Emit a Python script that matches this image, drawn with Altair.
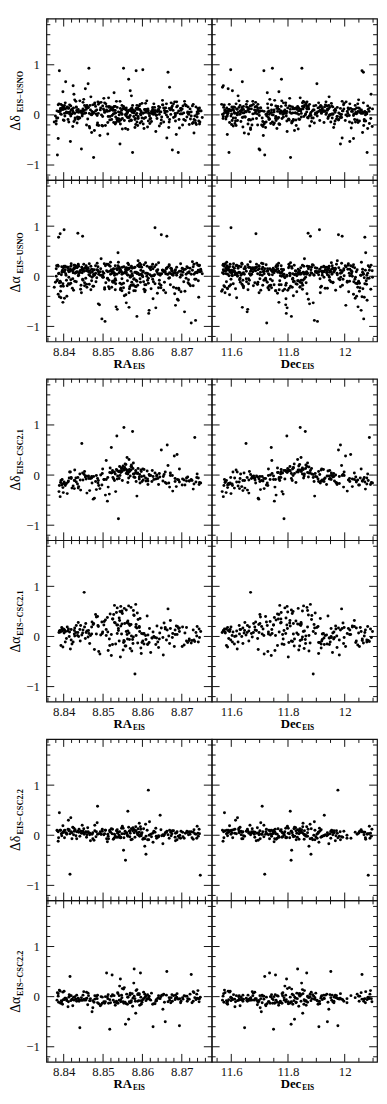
import altair as alt
import pandas as pd

# ---------------- EIS - USNO ----------------
usno_ra = [
    8.8412, 8.8567, 8.8703, 8.8389, 8.8631, 8.8478, 8.8525, 8.8745, 8.8436, 8.8594,
    8.8381, 8.8659, 8.8502, 8.8724, 8.8457, 8.8613, 8.8546, 8.8398, 8.8687, 8.8429,
    8.8571, 8.8492, 8.8738, 8.8615, 8.8404, 8.8533, 8.8669, 8.8446, 8.8582, 8.8711,
    8.8387, 8.8521, 8.8643, 8.8469, 8.8752, 8.8558, 8.8417, 8.8696, 8.8509, 8.8627,
    8.8441, 8.8589, 8.8376, 8.8678, 8.8536, 8.8462, 8.8719, 8.8603, 8.8395, 8.8549,
    8.8654, 8.8485, 8.8426, 8.8731, 8.8562, 8.8608, 8.8393, 8.8517, 8.8684, 8.8451,
    8.8575, 8.8409, 8.8638, 8.8497, 8.8742, 8.8529, 8.8453, 8.8662, 8.8384, 8.8596,
    8.8473, 8.8707, 8.8541, 8.8422, 8.8619, 8.8565, 8.8691, 8.8438, 8.8507, 8.8649,
    8.8401, 8.8578, 8.8466, 8.8727, 8.8554, 8.8433, 8.8672, 8.8514, 8.8599, 8.8392,
    8.8623, 8.8488, 8.8715, 8.8543, 8.8419, 8.8586, 8.8665, 8.8458, 8.8749, 8.8531,
    8.8379, 8.8611, 8.8495, 8.8693, 8.8447, 8.8569, 8.8634, 8.8411, 8.8526, 8.8735,
    8.8464, 8.8589, 8.8402, 8.8657, 8.8512, 8.8721, 8.8443, 8.8601, 8.8538, 8.8682,
    8.8391, 8.8557, 8.8476, 8.8644, 8.8428, 8.8713, 8.8593, 8.8505, 8.8667, 8.8415,
    8.8552, 8.8734, 8.8481, 8.8617, 8.8399, 8.8563, 8.8698, 8.8455, 8.8523, 8.8641,
    8.8437, 8.8584, 8.8705, 8.8519, 8.8386, 8.8627, 8.8491, 8.8746, 8.8572, 8.8448,
    8.8606, 8.8423, 8.8676, 8.8539, 8.8459, 8.8718, 8.8581, 8.8408, 8.8651, 8.8499,
    8.8561, 8.8689, 8.8434, 8.8528, 8.8632, 8.8382, 8.8574, 8.8729, 8.8471, 8.8616,
    8.8396, 8.8544, 8.8663, 8.8487, 8.8739, 8.8559, 8.8424, 8.8604, 8.8515, 8.8701,
    8.8445, 8.8579, 8.8388, 8.8648, 8.8532, 8.8461, 8.8686, 8.8597, 8.8418, 8.8566,
    8.8474, 8.8625, 8.8743, 8.8503, 8.8431, 8.8588, 8.8674, 8.8405, 8.8548, 8.8658,
]
usno_dec = [
    11.742, 11.615, 11.938, 12.061, 11.587, 11.823, 11.694, 12.012, 11.871, 11.653,
    11.964, 11.578, 11.806, 11.725, 12.083, 11.641, 11.897, 11.768, 11.602, 12.035,
    11.852, 11.713, 11.989, 11.631, 11.784, 12.047, 11.569, 11.918, 11.756, 11.672,
    12.071, 11.839, 11.607, 11.945, 11.731, 11.594, 12.018, 11.862, 11.689, 11.793,
    11.627, 11.974, 11.815, 12.056, 11.658, 11.902, 11.749, 11.583, 12.028, 11.836,
    11.704, 11.881, 12.093, 11.646, 11.771, 11.953, 11.619, 11.828, 12.004, 11.736,
    11.592, 11.929, 11.763, 12.067, 11.682, 11.847, 11.574, 11.991, 11.718, 11.886,
    12.041, 11.656, 11.802, 11.939, 11.613, 11.777, 12.079, 11.698, 11.864, 11.582,
    11.911, 11.738, 12.023, 11.667, 11.819, 11.596, 11.958, 11.843, 11.709, 12.052,
    11.634, 11.876, 11.751, 11.985, 11.579, 11.812, 12.066, 11.693, 11.927, 11.764,
    12.009, 11.621, 11.858, 11.733, 11.966, 11.604, 11.797, 12.088, 11.676, 11.893,
    11.745, 11.571, 12.037, 11.826, 11.661, 11.943, 11.788, 11.598, 12.074, 11.867,
    11.687, 11.934, 11.809, 11.573, 12.049, 11.758, 11.637, 11.904, 11.721, 11.996,
    11.849, 11.603, 11.776, 12.058, 11.918, 11.668, 11.831, 11.589, 12.016, 11.742,
    11.971, 11.715, 11.588, 11.857, 12.031, 11.649, 11.792, 11.951, 11.624, 11.879,
    11.769, 12.097, 11.701, 11.584, 11.915, 11.838, 11.663, 12.042, 11.753, 11.986,
    11.611, 11.872, 12.026, 11.727, 11.599, 11.956, 11.817, 11.678, 12.063, 11.794,
    11.921, 11.659, 11.786, 12.005, 11.643, 11.889, 11.572, 11.761, 11.947, 12.078,
    11.698, 11.845, 11.617, 11.978, 12.044, 11.729, 11.586, 11.866, 11.805, 11.639,
    11.932, 11.773, 12.069, 11.608, 11.854, 11.711, 11.997, 11.639, 11.782, 11.909,
]
usno_ddec = [
    0.05, -0.12, 0.18, 0.88, 0.02, -0.31, 0.09, 0.14, -0.06, 0.21,
    -0.18, 0.07, 0.33, -0.02, 0.11, -0.24, 0.04, 0.46, 0.16, -0.09,
    0.12, -0.41, 0.01, 0.08, 0.24, -0.15, 0.55, 0.03, -0.07, 0.19,
    0.07, 0.13, -0.22, 0.36, -0.05, 0.10, -0.53, 0.02, 0.17, 0.06,
    0.28, -0.03, -0.14, 0.09, 0.15, 0.62, -0.19, 0.04, 0.11, -0.28,
    0.14, -0.01, 0.41, -0.36, 0.06, 0.23, 0.12, -0.10, 0.00, 0.31,
    -0.75, 0.16, 0.07, -0.21, 0.10, 0.03, 0.19, -0.46, -0.80, 0.08,
    0.02, 0.27, -0.08, 0.12, -0.17, 0.71, -0.75, 0.05, 0.22, -0.04,
    0.15, 0.04, -0.26, 0.18, -0.11, 0.09, 0.01, 0.34, -0.06, 0.13,
    -0.13, 0.21, 0.06, -0.58, 0.10, 0.03, 0.85, -0.20, 0.08, 0.17,
    -0.02, 0.11, 0.25, -0.09, 0.05, 0.48, -0.33, 0.14, 0.02, -0.16,
    0.93, -0.07, 0.19, 0.04, -0.38, 0.12, 0.07, 0.90, -0.12, 0.26,
    0.09, 0.01, -0.85, 0.15, 0.30, -0.04, 0.11, 0.06, -0.25, 0.20,
    0.93, -0.11, 0.08, 0.03, 0.17, -0.29, 0.13, 0.52, -0.01, 0.10,
    -0.08, 0.88, 0.04, 0.16, -0.47, 0.07, 0.24, -0.14, 0.38, 0.02,
    0.11, -0.23, -0.70, 0.06, 0.19, 0.01, -0.09, 0.14, 0.29, -0.03,
    0.05, 0.18, -0.16, 0.44, 0.09, -0.06, 0.12, 0.21, -0.35, 0.03,
    0.13, -0.18, 0.07, 0.26, -0.04, 0.10, 0.58, -0.27, 0.15, 0.02,
    -0.68, 0.08, 0.22, -0.10, 0.04, 0.14, -0.39, 0.06, 0.18, -0.05,
    0.20, 0.03, -0.12, 0.09, 0.27, -0.21, 0.12, 0.66, 0.01, 0.07,
]
usno_dra = [
    0.12, -0.25, 0.08, -0.41, 0.19, 0.03, -0.12, 0.22, 0.86, -0.05,
    0.15, -0.33, 0.06, -0.93, 0.21, -0.08, 0.10, -0.52, 0.02, 0.17,
    -0.18, 0.09, 0.26, -0.04, 0.13, -0.61, 0.07, 0.18, -0.29, 0.04,
    0.78, 0.11, -0.15, 0.20, 0.05, -0.37, 0.14, -0.02, 0.24, -0.45,
    0.08, 0.31, -0.22, 0.02, -0.66, 0.16, 0.09, -0.11, 0.19, 0.07,
    -0.28, 0.13, 0.22, 0.04, -0.09, 0.27, -0.43, 0.10, -0.58, 0.15,
    0.01, 0.18, -0.34, -0.85, 0.12, 0.06, -0.19, 0.80, -0.07, 0.23,
    0.09, -0.71, 0.17, -0.24, 0.03, 0.14, -0.48, 0.20, -0.13, 0.05,
    0.93, -0.06, 0.11, 0.29, -0.39, 0.08, 0.16, -0.21, 0.02, -0.30,
    0.19, -0.55, 0.07, 0.12, 0.25, -0.80, 0.04, -0.16, 0.10, 0.21,
    -0.12, 0.06, 0.35, -0.27, 0.14, 0.01, -0.63, 0.18, 0.09, -0.88,
    0.03, 0.22, -0.44, 0.11, -0.05, 0.16, -0.26, 0.08, 0.47, -0.35,
    0.85, 0.13, -0.20, 0.05, -0.10, 0.19, 0.26, -0.90, -0.04, 0.12,
    -0.14, 0.07, 0.21, -0.68, 0.10, 0.02, -0.31, 0.17, 0.06, -0.23,
    0.24, -0.08, 0.13, 0.04, -0.36, 0.15, -0.57, 0.09, 0.20, 0.80,
    -0.17, 0.11, 0.03, 0.28, -0.22, 0.07, 0.18, -0.40, 0.12, -0.02,
    0.16, -0.46, 0.09, -0.12, 0.97, 0.21, 0.05, -0.19, 0.14, -0.74,
    0.10, -0.27, 0.04, 0.19, 0.07, -0.53, 0.13, 0.23, -0.08, 0.02,
    -0.33, 0.17, 0.06, 0.83, -0.15, 0.11, -0.24, 0.04, 0.20, -0.62,
    0.13, 0.01, -0.42, 0.25, 0.08, -0.18, 0.15, 0.05, -0.29, 0.09,
]
# USNO, stars of the dense central band
usno_ra_core = [
    8.8416, 8.8532, 8.8668, 8.8394, 8.8577, 8.8709, 8.8481, 8.8622, 8.8549, 8.8437,
    8.8595, 8.8463, 8.8731, 8.8511, 8.8652, 8.8403, 8.8568, 8.8689, 8.8527, 8.8448,
    8.8614, 8.8385, 8.8543, 8.8676, 8.8496, 8.8607, 8.8426, 8.8559, 8.8742, 8.8518,
    8.8639, 8.8472, 8.8583, 8.8409, 8.8697, 8.8535, 8.8456, 8.8628, 8.8571, 8.8381,
    8.8504, 8.8661, 8.8439, 8.8592, 8.8717, 8.8486, 8.8547, 8.8413, 8.8635, 8.8562,
    8.8399, 8.8524, 8.8683, 8.8467, 8.8604, 8.8748, 8.8541, 8.8432, 8.8579, 8.8654,
    8.8493, 8.8618, 8.8389, 8.8556, 8.8702, 8.8474, 8.8587, 8.8421, 8.8669, 8.8515,
    8.8643, 8.8452, 8.8566, 8.8398, 8.8724, 8.8538, 8.8601, 8.8478, 8.8692, 8.8429,
    8.8553, 8.8406, 8.8647, 8.8509, 8.8584, 8.8736, 8.8461, 8.8623, 8.8544, 8.8392,
    8.8679, 8.8522, 8.8443, 8.8598, 8.8711, 8.8488, 8.8565, 8.8418, 8.8631, 8.8574,
    8.8383, 8.8536, 8.8659, 8.8469, 8.8612, 8.8745, 8.8501, 8.8427, 8.8589, 8.8671,
    8.8458, 8.8548, 8.8705, 8.8434, 8.8626, 8.8513, 8.8396, 8.8581, 8.8684, 8.8476,
    8.8561, 8.8412, 8.8637, 8.8529, 8.8729, 8.8449, 8.8596, 8.8387, 8.8552, 8.8664,
    8.8484, 8.8619, 8.8424, 8.8573, 8.8698, 8.8506, 8.8444, 8.8641, 8.8558, 8.8739,
    8.8401, 8.8531, 8.8674, 8.8465, 8.8608, 8.8521, 8.8438, 8.8586, 8.8715, 8.8499,
    8.8423, 8.8541, 8.8679, 8.8402, 8.8563, 8.8716, 8.8489, 8.8606, 8.8534, 8.8447,
    8.8588, 8.8471, 8.8727, 8.8504, 8.8645, 8.8411, 8.8575, 8.8694, 8.8519, 8.8456,
    8.8621, 8.8393, 8.8551, 8.8668, 8.8482, 8.8611, 8.8435, 8.8566, 8.8737, 8.8526,
    8.8632, 8.8465, 8.8592, 8.8418, 8.8701, 8.8545, 8.8449, 8.8639, 8.8578, 8.8386,
    8.8512, 8.8656, 8.8428, 8.8599, 8.8722, 8.8494, 8.8557, 8.8407, 8.8641, 8.8569,
    8.8397, 8.8531, 8.8687, 8.8476, 8.8615, 8.8744, 8.8548, 8.8441, 8.8584, 8.8661,
    8.8499, 8.8626, 8.8391, 8.8561, 8.8708, 8.8468, 8.8594, 8.8415, 8.8673, 8.8522,
    8.8647, 8.8459, 8.8572, 8.8404, 8.8733, 8.8543, 8.8609, 8.8485, 8.8698, 8.8432,
    8.8559, 8.8413, 8.8651, 8.8516, 8.8581, 8.8741, 8.8453, 8.8629, 8.8537, 8.8399,
    8.8683, 8.8528, 8.8451, 8.8602, 8.8719, 8.8479, 8.8571, 8.8425, 8.8636, 8.8586,
]
usno_dec_core = [
    11.653, 11.847, 12.021, 11.734, 11.598, 11.912, 11.776, 12.064, 11.689, 11.831,
    11.959, 11.612, 11.803, 12.086, 11.742, 11.875, 11.577, 11.936, 11.718, 11.994,
    11.664, 11.889, 12.039, 11.757, 11.621, 11.968, 11.814, 11.703, 12.076, 11.856,
    11.592, 11.927, 11.771, 11.641, 12.013, 11.838, 11.684, 11.951, 11.579, 11.796,
    12.054, 11.728, 11.869, 11.606, 11.983, 11.752, 11.638, 11.906, 12.031, 11.783,
    11.668, 11.822, 11.574, 11.944, 12.092, 11.709, 11.861, 11.627, 11.979, 11.745,
    11.892, 11.586, 12.047, 11.764, 11.673, 11.918, 11.808, 11.601, 12.069, 11.851,
    11.722, 11.963, 11.649, 11.828, 11.587, 12.002, 11.787, 11.694, 11.931, 11.615,
    11.873, 12.058, 11.739, 11.596, 11.947, 11.816, 11.676, 12.027, 11.761, 11.632,
    11.989, 11.842, 11.583, 11.711, 12.081, 11.901, 11.658, 11.794, 11.974, 11.624,
    11.837, 12.044, 11.693, 11.569, 11.926, 11.768, 12.098, 11.645, 11.884, 11.751,
    11.609, 11.955, 11.819, 11.686, 12.036, 11.572, 11.898, 11.733, 11.966, 11.807,
    12.011, 11.661, 11.779, 11.921, 11.594, 11.853, 12.073, 11.716, 11.643, 11.942,
    11.789, 11.581, 11.881, 12.049, 11.726, 11.617, 11.992, 11.845, 11.699, 12.063,
    11.758, 11.913, 11.604, 11.832, 11.985, 11.671, 11.796, 12.017, 11.589, 11.866,
    11.701, 11.883, 12.046, 11.612, 11.767, 11.958, 11.829, 12.014, 11.676, 11.903,
    11.584, 11.745, 12.087, 11.851, 11.634, 11.979, 11.792, 11.668, 12.059, 11.817,
    11.941, 11.593, 11.866, 11.723, 12.032, 11.778, 11.649, 11.914, 11.601, 11.836,
    12.071, 11.712, 11.891, 11.629, 11.967, 11.804, 11.686, 12.024, 11.757, 11.575,
    11.927, 11.843, 11.619, 11.998, 11.735, 11.872, 12.081, 11.664, 11.809, 11.946,
    11.591, 11.769, 11.934, 11.826, 12.052, 11.697, 11.858, 11.607, 11.985, 11.748,
    11.877, 11.638, 12.009, 11.784, 11.566, 11.921, 11.813, 11.692, 12.066, 11.841,
    11.729, 11.954, 11.622, 11.868, 11.599, 11.991, 11.776, 11.707, 11.939, 11.654,
    11.896, 12.038, 11.741, 11.587, 11.961, 11.822, 11.683, 12.018, 11.764, 11.643,
    11.973, 11.834, 11.596, 11.716, 12.077, 11.908, 11.661, 11.799, 11.948, 11.631,
]
usno_ddec_core = [
    0.06, -0.04, 0.13, 0.01, 0.09, -0.11, 0.17, 0.03, -0.07, 0.11,
    0.02, 0.15, -0.09, 0.07, 0.20, -0.02, 0.10, 0.04, -0.15, 0.08,
    0.12, -0.06, 0.05, 0.18, 0.00, 0.09, -0.13, 0.14, 0.03, -0.03,
    0.10, 0.07, -0.19, 0.04, 0.13, -0.08, 0.16, 0.01, 0.08, -0.12,
    0.05, 0.22, -0.05, 0.11, 0.02, -0.16, 0.09, 0.14, -0.01, 0.06,
    -0.10, 0.12, 0.03, 0.19, -0.07, 0.08, 0.00, 0.15, 0.04, -0.14,
    0.10, -0.02, 0.07, 0.13, -0.20, 0.05, 0.11, 0.02, -0.09, 0.17,
    0.01, 0.09, -0.04, 0.14, 0.06, -0.11, 0.03, 0.21, 0.08, -0.06,
    0.12, 0.04, -0.17, 0.10, 0.00, 0.16, -0.08, 0.07, 0.13, 0.02,
    -0.05, 0.11, 0.06, -0.13, 0.18, 0.03, 0.09, -0.02, 0.15, 0.05,
    0.08, -0.10, 0.14, 0.01, 0.07, -0.18, 0.12, 0.04, -0.06, 0.10,
    0.16, 0.02, -0.09, 0.06, 0.11, -0.03, 0.19, 0.08, -0.12, 0.05,
    0.03, 0.13, -0.07, 0.09, -0.15, 0.12, 0.00, 0.07, 0.17, -0.04,
    0.10, -0.08, 0.05, 0.14, 0.02, -0.21, 0.08, 0.11, -0.01, 0.06,
    -0.11, 0.09, 0.15, 0.03, -0.05, 0.12, 0.07, -0.14, 0.04, 0.18,
    0.08, -0.13, 0.22, 0.03, -0.05, 0.16, -0.21, 0.11, 0.27, -0.02,
    0.14, 0.00, -0.17, 0.24, 0.06, -0.09, 0.19, -0.26, 0.10, 0.04,
    -0.07, 0.21, 0.13, -0.14, 0.02, 0.28, -0.04, 0.09, -0.19, 0.15,
    0.05, -0.23, 0.18, 0.01, 0.12, -0.10, 0.25, 0.07, -0.03, 0.20,
    -0.15, 0.09, 0.03, 0.23, -0.08, 0.14, -0.27, 0.06, 0.17, -0.01,
    0.11, -0.18, 0.26, 0.04, -0.12, 0.08, 0.19, -0.06, 0.13, 0.00,
    -0.22, 0.15, 0.07, -0.04, 0.21, 0.10, -0.16, 0.02, 0.24, -0.09,
    0.06, 0.18, -0.11, 0.12, -0.02, 0.27, 0.05, -0.20, 0.09, 0.16,
    0.01, -0.14, 0.20, 0.08, -0.25, 0.13, 0.03, 0.22, -0.07, 0.11,
    -0.03, 0.17, 0.09, -0.18, 0.05, 0.24, -0.10, 0.14, 0.00, 0.19,
]
usno_dra_core = [
    0.10, -0.08, 0.21, 0.03, -0.17, 0.14, 0.06, -0.25, 0.18, 0.01,
    -0.12, 0.09, 0.24, -0.04, 0.12, 0.19, -0.21, 0.07, 0.15, -0.06,
    0.05, 0.22, -0.14, 0.11, 0.02, -0.28, 0.16, 0.08, -0.09, 0.20,
    0.13, -0.02, 0.07, -0.19, 0.25, 0.04, 0.17, -0.11, 0.10, 0.00,
    -0.23, 0.15, 0.06, 0.19, -0.07, 0.12, -0.16, 0.09, 0.23, 0.03,
    0.17, -0.10, 0.11, 0.01, -0.26, 0.14, 0.07, 0.20, -0.05, 0.09,
    0.02, 0.18, -0.13, 0.08, 0.15, -0.20, 0.05, 0.12, -0.03, 0.22,
    -0.08, 0.10, 0.16, -0.15, 0.04, 0.21, -0.01, 0.13, -0.24, 0.06,
    0.19, 0.02, -0.18, 0.11, 0.08, -0.06, 0.17, 0.00, 0.14, -0.12,
    0.07, -0.22, 0.12, 0.18, -0.04, 0.09, 0.23, -0.14, 0.03, 0.16,
    -0.09, 0.13, 0.05, -0.27, 0.20, 0.10, -0.02, 0.15, 0.06, -0.17,
    0.11, 0.04, -0.11, 0.17, -0.06, 0.24, 0.08, -0.20, 0.13, 0.01,
    0.14, -0.15, 0.09, 0.02, 0.19, -0.08, 0.12, 0.05, -0.23, 0.18,
    -0.03, 0.16, 0.07, -0.12, 0.10, 0.21, -0.18, 0.04, 0.15, 0.08,
    0.20, -0.05, 0.11, -0.16, 0.06, 0.13, 0.02, -0.10, 0.17, 0.09,
    -0.05, 0.18, -0.22, 0.09, 0.26, -0.13, 0.04, -0.31, 0.15, 0.07,
    0.21, -0.09, 0.12, -0.26, 0.02, 0.17, -0.18, 0.10, 0.28, -0.04,
    0.13, -0.20, 0.06, 0.23, -0.11, 0.00, 0.19, -0.33, 0.08, 0.14,
    -0.15, 0.25, 0.03, -0.07, 0.16, -0.24, 0.11, 0.05, -0.29, 0.20,
    0.09, -0.12, 0.22, 0.01, -0.19, 0.15, 0.06, -0.08, 0.27, -0.02,
    0.12, -0.27, 0.18, 0.04, -0.14, 0.21, -0.05, 0.10, -0.21, 0.16,
    0.02, 0.24, -0.10, 0.13, -0.30, 0.07, 0.19, -0.16, 0.05, 0.11,
    -0.23, 0.14, 0.00, 0.20, -0.06, 0.09, -0.17, 0.26, 0.03, -0.11,
    0.17, -0.02, 0.12, -0.25, 0.08, 0.22, -0.13, 0.01, 0.15, -0.20,
    0.06, -0.09, 0.24, 0.10, -0.16, 0.03, 0.18, -0.28, 0.11, 0.07,
]

# ---------------- EIS - CSC2.1 ----------------
csc21_ra = [
    8.8412, 8.8553, 8.8671, 8.8398, 8.8527, 8.8604, 8.8466, 8.8739, 8.8581, 8.8435,
    8.8562, 8.8489, 8.8627, 8.8391, 8.8548, 8.8706, 8.8452, 8.8594, 8.8516, 8.8658,
    8.8424, 8.8571, 8.8683, 8.8537, 8.8478, 8.8612, 8.8401, 8.8556, 8.8729, 8.8503,
    8.8587, 8.8446, 8.8641, 8.8529, 8.8694, 8.8419, 8.8566, 8.8492, 8.8618, 8.8745,
    8.8388, 8.8541, 8.8599, 8.8471, 8.8665, 8.8513, 8.8428, 8.8578, 8.8712, 8.8555,
    8.8634, 8.8459, 8.8545, 8.8407, 8.8589, 8.8686, 8.8521, 8.8441, 8.8602, 8.8569,
    8.8497, 8.8724, 8.8534, 8.8415, 8.8648, 8.8575, 8.8483, 8.8559, 8.8393, 8.8677,
    8.8551, 8.8432, 8.8608, 8.8506, 8.8733, 8.8583, 8.8462, 8.8539, 8.8655, 8.8421,
    8.8592, 8.8518, 8.8701, 8.8448, 8.8563, 8.8621, 8.8396, 8.8544, 8.8475, 8.8688,
    8.8577, 8.8405, 8.8532, 8.8637, 8.8486, 8.8719, 8.8561, 8.8438, 8.8596, 8.8524,
    8.8663, 8.8549, 8.8456, 8.8742, 8.8573, 8.8409, 8.8614, 8.8536, 8.8499, 8.8584,
    8.8427, 8.8558, 8.8692, 8.8511, 8.8643, 8.8472, 8.8597, 8.8389, 8.8547, 8.8715,
    8.8565, 8.8443, 8.8625, 8.8508, 8.8736, 8.8579, 8.8417, 8.8542, 8.8669, 8.8488,
    8.8601, 8.8525, 8.8403, 8.8554, 8.8681, 8.8464, 8.8586, 8.8632, 8.8437, 8.8748,
    8.8535, 8.8613, 8.8481, 8.8572, 8.8399, 8.8653, 8.8543, 8.8708, 8.8453, 8.8567,
    8.8431, 8.8562, 8.8694, 8.8508, 8.8617, 8.8397, 8.8548, 8.8726, 8.8471, 8.8583,
    8.8652, 8.8419, 8.8536, 8.8604, 8.8487, 8.8738, 8.8559, 8.8442, 8.8671, 8.8521,
    8.8592, 8.8404, 8.8566, 8.8683, 8.8455, 8.8531, 8.8629, 8.8392, 8.8576, 8.8712,
    8.8494, 8.8545, 8.8661, 8.8427, 8.8598, 8.8517, 8.8744, 8.8468, 8.8571, 8.8636,
    8.8411, 8.8554, 8.8702, 8.8483, 8.8609, 8.8539, 8.8436, 8.8588, 8.8667, 8.8502,
    8.8577, 8.8449, 8.8644, 8.8524, 8.8395, 8.8561, 8.8719, 8.8476, 8.8593, 8.8541,
    8.8658, 8.8414, 8.8552, 8.8689, 8.8498, 8.8624, 8.8463, 8.8568, 8.8731, 8.8512,
    8.8584, 8.8428, 8.8639, 8.8547, 8.8401, 8.8676, 8.8529, 8.8457, 8.8614, 8.8563,
]
csc21_dec = [
    11.712, 11.843, 12.034, 11.587, 11.768, 11.925, 11.641, 12.081, 11.889, 11.603,
    11.806, 11.729, 11.962, 11.572, 11.851, 12.046, 11.668, 11.914, 11.783, 11.998,
    11.624, 11.867, 12.017, 11.749, 11.695, 11.941, 11.579, 11.822, 12.073, 11.737,
    11.896, 11.652, 11.973, 11.771, 12.058, 11.598, 11.834, 11.716, 11.952, 12.094,
    11.568, 11.793, 11.908, 11.683, 11.989, 11.754, 11.617, 11.872, 12.041, 11.819,
    11.946, 11.662, 11.797, 11.591, 11.883, 12.027, 11.741, 11.633, 11.921, 11.857,
    11.724, 12.066, 11.776, 11.606, 11.978, 11.861, 11.703, 11.812, 11.583, 12.009,
    11.838, 11.628, 11.931, 11.758, 12.087, 11.879, 11.674, 11.786, 11.994, 11.611,
    11.902, 11.763, 12.052, 11.645, 11.828, 11.957, 11.576, 11.801, 11.697, 12.021,
    11.869, 11.594, 11.779, 11.968, 11.721, 12.062, 11.846, 11.637, 11.917, 11.766,
    11.985, 11.815, 11.679, 12.078, 11.874, 11.599, 11.936, 11.789, 11.731, 11.892,
    11.629, 11.841, 12.013, 11.752, 11.961, 11.686, 11.908, 11.574, 11.799, 12.039,
    11.855, 11.657, 11.947, 11.743, 12.071, 11.884, 11.621, 11.807, 11.996, 11.707,
    11.919, 11.775, 11.589, 11.836, 12.003, 11.671, 11.894, 11.953, 11.648, 12.098,
    11.796, 11.928, 11.701, 11.863, 11.582, 11.981, 11.818, 12.049, 11.664, 11.849,
    11.678, 11.823, 12.041, 11.756, 11.912, 11.593, 11.847, 12.083, 11.709, 11.869,
    11.964, 11.631, 11.792, 11.938, 11.727, 12.069, 11.854, 11.662, 11.991, 11.781,
    11.906, 11.604, 11.831, 12.018, 11.693, 11.774, 11.952, 11.578, 11.862, 12.055,
    11.738, 11.808, 11.981, 11.647, 11.897, 11.763, 12.091, 11.715, 11.841, 11.945,
    11.619, 11.816, 12.027, 11.731, 11.921, 11.798, 11.656, 11.878, 11.972, 11.749,
    11.851, 11.684, 11.958, 11.786, 11.587, 11.836, 12.062, 11.701, 11.889, 11.812,
    11.969, 11.612, 11.803, 12.034, 11.744, 11.927, 11.689, 11.845, 12.078, 11.769,
    11.874, 11.641, 11.949, 11.819, 11.596, 11.998, 11.776, 11.698, 11.917, 11.858,
]
csc21_ddec = [
    -0.12, 0.95, 0.04, -0.25, -0.08, 0.11, -0.31, 0.02, -0.05, -0.18,
    0.09, -0.21, -0.03, -0.43, 0.14, -0.10, 0.01, -0.16, -0.38, 0.06,
    -0.22, 0.17, -0.07, -0.02, -0.46, 0.08, -0.14, 0.22, -0.28, -0.09,
    0.03, 0.63, -0.19, -0.11, 0.12, -0.05, 0.31, -0.27, -0.01, -0.15,
    -0.33, 0.07, -0.13, -0.06, 0.19, -0.24, 0.10, -0.04, -0.12, 0.15,
    -0.08, -0.36, 0.05, -0.17, 0.13, -0.23, 0.55, 0.02, -0.10, -0.02,
    -0.20, -0.09, 0.11, 0.06, 0.50, 0.87, -0.29, 0.03, -0.11, -0.32,
    0.18, -0.14, -0.06, -0.40, 0.75, 0.09, -0.03, -0.87, 0.01, -0.26,
    -0.04, 0.14, -0.20, 0.04, -0.15, -0.01, -0.09, 0.08, -0.48, 0.41,
    0.24, -0.18, -0.33, 0.00, -0.07, -0.12, 0.35, -0.23, 0.10, 0.05,
    0.60, -0.11, -0.02, -0.06, 0.16, -0.37, -0.19, -0.08, 0.12, -0.13,
    -0.27, 0.21, -0.10, -0.52, 0.03, -0.16, 0.07, -0.21, 0.13, -0.04,
    -0.06, -0.30, 0.09, 0.29, -0.14, 0.02, 0.06, 0.17, -0.24, -0.11,
    0.12, -0.05, -0.18, 0.10, 0.38, -0.07, -0.42, 0.04, -0.26, -0.16,
    0.78, -0.08, -0.13, 0.20, -0.35, -0.03, -0.01, -0.20, 0.07, 0.11,
    -0.06, 0.03, -0.14, -0.09, 0.01, -0.18, 0.07, -0.11, -0.03, 0.05,
    -0.12, -0.07, 0.09, -0.02, -0.16, -0.05, 0.11, -0.10, -0.01, 0.04,
    -0.08, -0.21, 0.06, -0.13, -0.04, 0.02, -0.09, -0.15, 0.13, -0.06,
    0.00, 0.08, -0.17, -0.11, -0.03, 0.05, -0.19, -0.07, 0.10, -0.02,
    -0.14, 0.12, -0.08, -0.01, -0.12, 0.07, -0.05, 0.04, -0.16, -0.09,
    0.02, -0.10, -0.04, 0.09, -0.20, 0.06, -0.12, -0.03, 0.01, -0.07,
    -0.15, -0.06, 0.10, -0.09, 0.03, -0.13, -0.02, 0.08, -0.18, -0.05,
    0.04, -0.11, -0.07, 0.14, -0.16, -0.01, 0.06, -0.08, -0.12, 0.02,
]
csc21_dra = [
    0.15, -0.08, 0.32, -0.21, 0.44, 0.06, -0.14, 0.20, -0.75, 0.02,
    0.27, -0.30, 0.09, 0.12, 0.51, -0.17, 0.88, 0.36, -0.05, 0.18,
    -0.11, 0.58, 0.04, 0.23, -0.26, 0.41, 0.07, -0.19, 0.13, 0.30,
    0.47, 0.03, -0.22, 0.62, 0.10, -0.07, 0.25, -0.35, 0.16, -0.02,
    0.08, 0.37, -0.12, 0.19, 0.55, -0.28, 0.01, 0.43, -0.09, 0.26,
    -0.16, 0.11, 0.60, -0.04, 0.34, 0.21, -0.38, 0.14, 0.05, -0.24,
    0.29, -0.13, 0.48, 0.09, 0.17, -0.06, 0.39, 0.53, -0.18, 0.06,
    -0.27, 0.22, 0.02, 0.33, -0.10, 0.64, -0.01, 0.12, 0.27, -0.15,
    0.18, 0.45, -0.20, 0.07, 0.31, -0.32, 0.15, -0.41, 0.24, 0.04,
    0.52, 0.10, -0.15, 0.21, 0.40, -0.08, 0.28, 0.00, -0.23, 0.35,
    0.13, 0.46, 0.26, -0.11, -0.29, 0.19, 0.03, 0.57, 0.09, 0.24,
    0.05, -0.19, 0.16, 0.38, -0.05, 0.29, -0.34, 0.11, 0.49, -0.12,
    0.61, 0.22, -0.03, 0.14, 0.08, 0.42, -0.25, 0.32, -0.14, 0.20,
    -0.09, 0.35, 0.12, 0.56, -0.20, 0.06, 0.17, -0.02, 0.28, 0.10,
    0.23, -0.16, 0.44, 0.01, 0.15, -0.37, 0.50, 0.07, 0.19, -0.06,
    0.08, -0.05, 0.17, 0.02, -0.12, 0.11, 0.25, -0.08, 0.05, 0.19,
    -0.02, 0.14, 0.06, -0.15, 0.22, 0.01, 0.10, -0.09, 0.16, 0.04,
    0.20, -0.11, 0.07, 0.13, -0.04, 0.27, 0.00, 0.09, -0.14, 0.18,
    0.03, 0.21, -0.07, 0.12, 0.06, -0.18, 0.15, 0.02, 0.24, -0.03,
    0.11, -0.10, 0.19, 0.05, -0.06, 0.16, 0.08, -0.13, 0.01, 0.23,
    -0.01, 0.13, 0.07, -0.16, 0.18, 0.04, -0.05, 0.26, 0.10, -0.09,
    0.15, 0.00, -0.12, 0.20, 0.06, -0.03, 0.12, 0.22, -0.07, 0.09,
    0.02, 0.17, -0.11, 0.05, 0.14, -0.02, 0.28, 0.08, -0.15, 0.11,
]

# ---------------- EIS - CSC2.2 ----------------
csc22_ra = [
    8.8394, 8.8528, 8.8662, 8.8441, 8.8579, 8.8717, 8.8486, 8.8613, 8.8405, 8.8551,
    8.8683, 8.8462, 8.8597, 8.8386, 8.8534, 8.8741, 8.8509, 8.8645, 8.8423, 8.8568,
    8.8702, 8.8477, 8.8589, 8.8416, 8.8541, 8.8629, 8.8398, 8.8563, 8.8694, 8.8452,
    8.8517, 8.8654, 8.8433, 8.8576, 8.8729, 8.8495, 8.8608, 8.8384, 8.8545, 8.8672,
    8.8468, 8.8586, 8.8411, 8.8636, 8.8523, 8.8747, 8.8449, 8.8595, 8.8502, 8.8688,
    8.8557, 8.8426, 8.8641, 8.8538, 8.8391, 8.8618, 8.8474, 8.8709, 8.8582, 8.8513,
    8.8437, 8.8665, 8.8549, 8.8402, 8.8596, 8.8724, 8.8489, 8.8627, 8.8560, 8.8418,
    8.8679, 8.8531, 8.8457, 8.8603, 8.8389, 8.8571, 8.8736, 8.8506, 8.8652, 8.8445,
    8.8588, 8.8414, 8.8697, 8.8542, 8.8479, 8.8623, 8.8397, 8.8565, 8.8713, 8.8526,
    8.8451, 8.8639, 8.8575, 8.8408, 8.8684, 8.8519, 8.8592, 8.8431, 8.8744, 8.8554,
    8.8615, 8.8483, 8.8387, 8.8669, 8.8537, 8.8461, 8.8606, 8.8721, 8.8498, 8.8578,
    8.8421, 8.8658, 8.8547, 8.8412, 8.8691, 8.8584, 8.8466, 8.8632, 8.8511, 8.8739,
    8.8569, 8.8439, 8.8616, 8.8493, 8.8675, 8.8552, 8.8383, 8.8599, 8.8706, 8.8472,
    8.8536, 8.8649, 8.8427, 8.8583, 8.8458, 8.8715, 8.8521, 8.8609, 8.8401, 8.8562,
    8.8687, 8.8447, 8.8574, 8.8504, 8.8634, 8.8419, 8.8593, 8.8731, 8.8485, 8.8544,
    8.8407, 8.8541, 8.8676, 8.8459, 8.8592, 8.8726, 8.8498, 8.8621, 8.8433, 8.8567,
    8.8695, 8.8474, 8.8609, 8.8392, 8.8548, 8.8738, 8.8517, 8.8656, 8.8429, 8.8581,
    8.8714, 8.8486, 8.8601, 8.8413, 8.8559, 8.8641, 8.8386, 8.8572, 8.8703, 8.8463,
    8.8529, 8.8668, 8.8444, 8.8588, 8.8742, 8.8506, 8.8617, 8.8399, 8.8553, 8.8684,
    8.8479, 8.8597, 8.8421, 8.8647, 8.8534, 8.8733, 8.8456, 8.8606, 8.8512, 8.8698,
    8.8563, 8.8438, 8.8652, 8.8545, 8.8403, 8.8626, 8.8482, 8.8719, 8.8591, 8.8524,
    8.8447, 8.8673, 8.8556, 8.8416, 8.8603, 8.8729, 8.8495, 8.8635, 8.8568, 8.8425,
    8.8688, 8.8538, 8.8467, 8.8612, 8.8395, 8.8579, 8.8745, 8.8514, 8.8661, 8.8452,
]
csc22_dec = [
    11.583, 11.762, 11.951, 11.647, 11.834, 12.068, 11.709, 11.887, 11.602, 11.801,
    11.993, 11.678, 11.856, 11.571, 11.773, 12.091, 11.735, 11.928, 11.631, 11.819,
    12.037, 11.695, 11.842, 11.718, 11.787, 11.912, 11.594, 11.808, 11.976, 11.662,
    11.749, 11.937, 11.641, 11.827, 12.074, 11.721, 11.878, 11.578, 11.794, 11.962,
    11.688, 11.851, 11.613, 11.903, 11.756, 12.083, 11.659, 11.866, 11.731, 11.985,
    11.811, 11.627, 11.919, 11.779, 11.589, 11.893, 11.702, 12.049, 11.846, 11.742,
    11.653, 11.958, 11.798, 11.605, 11.871, 12.061, 11.726, 11.909, 11.815, 11.622,
    11.971, 11.767, 11.684, 11.882, 11.576, 11.829, 12.079, 11.741, 11.944, 11.669,
    11.861, 11.608, 12.008, 11.789, 11.715, 11.898, 11.587, 11.823, 12.053, 11.758,
    11.674, 11.916, 11.838, 11.599, 11.967, 11.754, 11.853, 11.643, 12.096, 11.805,
    11.976, 11.711, 11.574, 11.954, 11.782, 11.692, 11.874, 12.044, 11.737, 11.848,
    11.637, 11.939, 11.792, 11.615, 11.981, 11.858, 11.698, 11.907, 11.751, 12.087,
    11.831, 11.657, 11.895, 11.722, 11.948, 11.813, 11.569, 11.869, 12.022, 11.706,
    11.776, 11.926, 11.634, 11.852, 11.683, 12.071, 11.765, 11.881, 11.596, 11.817,
    11.963, 11.666, 11.839, 11.746, 11.911, 11.628, 11.864, 12.058, 11.704, 11.795,
    11.612, 11.781, 11.962, 11.668, 11.847, 12.073, 11.724, 11.902, 11.641, 11.812,
    12.008, 11.697, 11.869, 11.584, 11.786, 12.089, 11.748, 11.941, 11.626, 11.833,
    12.051, 11.709, 11.857, 11.598, 11.801, 11.927, 11.573, 11.821, 11.989, 11.676,
    11.762, 11.951, 11.655, 11.839, 12.094, 11.733, 11.891, 11.591, 11.806, 11.974,
    11.701, 11.864, 11.628, 11.917, 11.769, 12.081, 11.672, 11.878, 11.744, 11.997,
    11.824, 11.639, 11.932, 11.792, 11.602, 11.906, 11.715, 12.061, 11.859, 11.755,
    11.664, 11.969, 11.811, 11.618, 11.884, 12.067, 11.738, 11.921, 11.828, 11.635,
    11.984, 11.779, 11.691, 11.895, 11.587, 11.842, 12.085, 11.753, 11.956, 11.681,
]
csc22_ddec = [
    0.03, -0.06, 0.08, -0.02, 0.11, 0.01, 0.58, -0.09, 0.05, 0.14,
    -0.04, 0.07, 0.02, -0.12, 0.09, 0.04, -0.07, 0.40, 0.16, -0.03,
    0.06, -0.10, 0.13, -0.78, 0.00, 0.08, 0.19, 0.48, -0.05, 0.04,
    0.10, -0.01, 0.07, 0.15, -0.08, 0.02, 0.22, 0.09, -0.04, 0.06,
    -0.11, 0.05, 0.12, -0.06, 0.03, -0.80, 0.08, 0.17, 0.01, -0.09,
    -0.50, 0.14, -0.03, 0.06, 0.10, 0.27, -0.07, 0.04, 0.09, -0.02,
    0.08, 0.01, 0.18, -0.05, 0.12, 0.07, 0.03, -0.14, 0.05, 0.35,
    0.09, -0.02, 0.06, 0.13, 0.45, -0.09, 0.02, 0.10, -0.17, 0.04,
    0.01, 0.11, -0.06, 0.07, 0.20, -0.03, 0.05, 0.16, 0.08, -0.08,
    0.13, -0.04, 0.09, 0.02, -0.11, 0.06, 0.24, -0.01, 0.12, 0.03,
    0.90, 0.07, -0.05, 0.10, 0.04, 0.15, -0.22, 0.02, 0.08, 0.11,
    -0.07, 0.05, 0.14, 0.30, -0.02, 0.09, 0.01, 0.06, -0.13, 0.18,
    0.04, 0.12, -0.09, 0.07, 0.03, -0.30, 0.10, 0.05, -0.06, 0.02,
    0.11, -0.01, 0.08, 0.17, -0.04, 0.06, 0.13, -0.38, 0.09, 0.00,
    0.05, 0.20, -0.08, 0.03, 0.14, 0.07, -0.02, 0.11, 0.25, -0.05,
    0.04, -0.03, 0.09, 0.01, 0.06, -0.05, 0.12, 0.02, -0.07, 0.08,
    0.00, 0.05, -0.02, 0.10, 0.03, -0.06, 0.07, 0.01, 0.11, -0.04,
    0.06, 0.02, -0.08, 0.09, 0.04, -0.01, 0.07, 0.13, -0.03, 0.05,
    0.02, -0.06, 0.08, 0.03, -0.02, 0.10, 0.00, 0.06, -0.05, 0.04,
    0.09, -0.01, 0.05, 0.11, -0.04, 0.03, 0.07, -0.07, 0.02, 0.08,
    -0.02, 0.06, 0.01, -0.05, 0.10, 0.04, -0.03, 0.07, 0.00, 0.12,
    0.05, -0.01, 0.08, 0.03, -0.06, 0.06, 0.02, -0.02, 0.09, 0.01,
    0.07, -0.04, 0.04, 0.10, -0.01, 0.05, 0.03, -0.07, 0.06, 0.02,
]
csc22_dra = [
    -0.08, 0.02, 0.50, -0.62, 0.55, -0.05, -0.12, 0.04, -0.03, -0.10,
    -0.06, 0.07, -0.15, 0.01, -0.09, 0.12, 0.47, -0.04, -0.18, 0.03,
    -0.02, -0.11, 0.06, 0.40, -0.07, -0.14, 0.09, -0.01, -0.58, -0.05,
    -0.65, 0.05, -0.09, -0.03, 0.10, -0.16, 0.00, 0.08, -0.06, -0.12,
    -0.04, 0.14, -0.20, -0.08, 0.43, -0.01, 0.03, 0.47, -0.10, 0.06,
    -0.55, -0.07, 0.02, -0.13, 0.11, -0.05, -0.22, 0.01, -0.09, 0.04,
    -0.03, -0.10, 0.16, -0.06, -0.01, 0.44, -0.14, -0.60, 0.05, -0.08,
    0.02, -0.17, -0.04, 0.09, 0.13, -0.11, -0.06, 0.00, -0.25, -0.02,
    -0.09, 0.04, -0.12, 0.21, -0.05, 0.07, -0.15, -0.45, 0.01, -0.07,
    0.10, -0.03, -0.19, -0.08, 0.03, -0.12, 0.06, -0.05, -0.10, 0.18,
    -0.04, 0.01, -0.11, -0.07, 0.08, -0.16, -0.02, 0.05, -0.13, 0.27,
    -0.06, -0.50, 0.03, -0.10, -0.05, 0.12, -0.08, -0.14, 0.00, -0.03,
    0.07, -0.09, -0.02, -0.18, 0.04, 0.15, -0.07, -0.11, 0.02, -0.30,
    -0.12, 0.03, -0.06, -0.33, 0.09, -0.04, 0.01, -0.08, 0.11, -0.15,
    -0.01, -0.07, 0.06, -0.13, -0.09, 0.02, -0.17, 0.08, -0.04, 0.35,
    -0.05, 0.02, -0.09, -0.03, 0.04, -0.12, -0.01, -0.07, 0.03, -0.10,
    -0.04, -0.08, 0.01, -0.13, -0.02, 0.05, -0.06, -0.11, 0.00, -0.04,
    -0.09, 0.03, -0.06, -0.01, -0.14, -0.03, 0.06, -0.08, -0.05, 0.02,
    -0.11, -0.02, -0.07, 0.04, -0.04, -0.10, 0.01, -0.06, -0.13, -0.03,
    0.02, -0.08, -0.05, 0.00, -0.12, -0.02, -0.07, 0.05, -0.04, -0.09,
    -0.01, -0.06, 0.03, -0.10, -0.03, -0.15, 0.01, -0.05, -0.08, 0.04,
    -0.07, -0.02, -0.11, 0.02, -0.04, -0.09, 0.00, -0.06, -0.12, -0.01,
    -0.03, 0.06, -0.08, -0.05, -0.10, 0.01, -0.04, -0.13, 0.03, -0.07,
]

# ---------------- axis ticks ----------------
ra_major = [8.84, 8.85, 8.86, 8.87]
ra_minor = [8.836, 8.838, 8.842, 8.844, 8.846, 8.848, 8.852, 8.854, 8.856,
            8.858, 8.862, 8.864, 8.866, 8.868, 8.872, 8.874, 8.876]
dec_major = [11.6, 11.8, 12.0]
dec_minor = [11.55, 11.65, 11.7, 11.75, 11.85, 11.9, 11.95, 12.05, 12.1]
d_major = [-1, 0, 1]
d_minor = [-1.2, -0.8, -0.6, -0.4, -0.2, 0.2, 0.4, 0.6, 0.8, 1.2, 1.4, 1.6, 1.8]

FONT = "Liberation Serif"
RA_DOMAIN = [8.8356, 8.8776]
DEC_DOMAIN = [11.531, 12.114]
D_DOMAIN = [-1.3, 1.92]
W = 168
H = 164
GAP = 38
INK = "#111111"
MAJ = 8
MIN = 4


def make_df(ra, dec, ddec, dra):
    n = min(len(ra), len(dec), len(ddec), len(dra))
    return pd.DataFrame({"ra": ra[:n], "dec": dec[:n], "ddec": ddec[:n], "dra": dra[:n]})


def label_axis(orient, values, labels, pad):
    return alt.Axis(
        orient=orient, values=values, ticks=False, labels=labels, domain=False,
        grid=False, title=None, format="~f", labelPadding=pad, labelFont=FONT,
        labelFontSize=13, labelColor=INK, labelFlush=False, labelOverlap=False,
    )


def yticks(yf, ys, values, x0, x1):
    return alt.Chart(pd.DataFrame({yf: values})).mark_rule(
        color=INK, strokeWidth=1).encode(
        y=alt.Y(f"{yf}:Q", scale=ys, axis=None),
        x=alt.value(x0), x2=alt.value(x1))


def xticks(xf, xs, values, y0, y1):
    return alt.Chart(pd.DataFrame({xf: values})).mark_rule(
        color=INK, strokeWidth=1).encode(
        x=alt.X(f"{xf}:Q", scale=xs, axis=None),
        y=alt.value(y0), y2=alt.value(y1))


def panel(df, xf, yf, xdom, xmaj, xmin, left_labels, bottom_labels,
          ytitle=None, xtitle=None):
    xs = alt.Scale(domain=xdom, nice=False, zero=False)
    ys = alt.Scale(domain=D_DOMAIN, nice=False, zero=False)

    pts = alt.Chart(df).mark_circle(size=9, color="black", opacity=1).encode(
        x=alt.X(f"{xf}:Q", scale=xs, axis=label_axis("bottom", xmaj, bottom_labels, 4)),
        y=alt.Y(f"{yf}:Q", scale=ys, axis=label_axis("left", d_major, left_labels, 7)),
    )
    layers = [
        pts,
        yticks(yf, ys, d_major, 0, MAJ),
        yticks(yf, ys, d_minor, 0, MIN),
        yticks(yf, ys, d_major, W - MAJ, W),
        yticks(yf, ys, d_minor, W - MIN, W),
        xticks(xf, xs, xmaj, H - MAJ, H),
        xticks(xf, xs, xmin, H - MIN, H),
        xticks(xf, xs, xmaj, 0, MAJ),
        xticks(xf, xs, xmin, 0, MIN),
    ]
    one = pd.DataFrame({"k": [0]})
    if ytitle is not None:
        main, sub = ytitle
        layers.append(alt.Chart(one).mark_text(
            text=main, angle=270, font=FONT, fontSize=14, align="center",
            baseline="middle", color="black").encode(
            x=alt.value(-31), y=alt.value(H / 2 + 24)))
        layers.append(alt.Chart(one).mark_text(
            text=sub, angle=270, font=FONT, fontSize=8.5, fontWeight="bold",
            align="center", baseline="middle", color="black").encode(
            x=alt.value(-27), y=alt.value(H / 2 - 8)))
    if xtitle is not None:
        main, shift = xtitle
        layers.append(alt.Chart(one).mark_text(
            text=main, font=FONT, fontSize=13, fontWeight="bold", align="right",
            baseline="alphabetic", color="black").encode(
            x=alt.value(W / 2 + shift), y=alt.value(H + 27)))
        layers.append(alt.Chart(one).mark_text(
            text="EIS", font=FONT, fontSize=7.5, fontWeight="bold", align="left",
            baseline="alphabetic", color="black").encode(
            x=alt.value(W / 2 + shift + 1), y=alt.value(H + 28.5)))
    return alt.layer(*layers).resolve_axis(x="independent", y="independent").properties(
        width=W, height=H)


def spacer():
    one = pd.DataFrame({"k": [0]})
    return alt.Chart(one).mark_point(opacity=0).encode(
        x=alt.value(0), y=alt.value(0)).properties(
        width=W, height=GAP, view=alt.ViewConfig(stroke=None))


def block(df, sub):
    return [
        panel(df, "ra", "ddec", RA_DOMAIN, ra_major, ra_minor, True, False,
              ytitle=("Δδ", sub)),
        panel(df, "dec", "ddec", DEC_DOMAIN, dec_major, dec_minor, False, False),
        panel(df, "ra", "dra", RA_DOMAIN, ra_major, ra_minor, True, True,
              ytitle=("Δα", sub), xtitle=("RA", 3)),
        panel(df, "dec", "dra", DEC_DOMAIN, dec_major, dec_minor, False, True,
              xtitle=("Dec", 7)),
    ]


df_usno = pd.concat([
    make_df(usno_ra, usno_dec, usno_ddec, usno_dra),
    make_df(usno_ra_core, usno_dec_core, usno_ddec_core, usno_dra_core),
], ignore_index=True)
df_c21 = make_df(csc21_ra, csc21_dec, csc21_ddec, csc21_dra)
df_c22 = make_df(csc22_ra, csc22_dec, csc22_ddec, csc22_dra)

cells = (block(df_usno, "EIS−USNO") + [spacer(), spacer()]
         + block(df_c21, "EIS−CSC2.1") + [spacer(), spacer()]
         + block(df_c22, "EIS−CSC2.2"))

chart = alt.concat(*cells, columns=2, spacing=0, bounds="flush").properties(
    padding=0).configure_view(stroke="#111111", strokeWidth=1.2)

chart.save("out.html", embed_options={"renderer": "svg", "actions": False})
